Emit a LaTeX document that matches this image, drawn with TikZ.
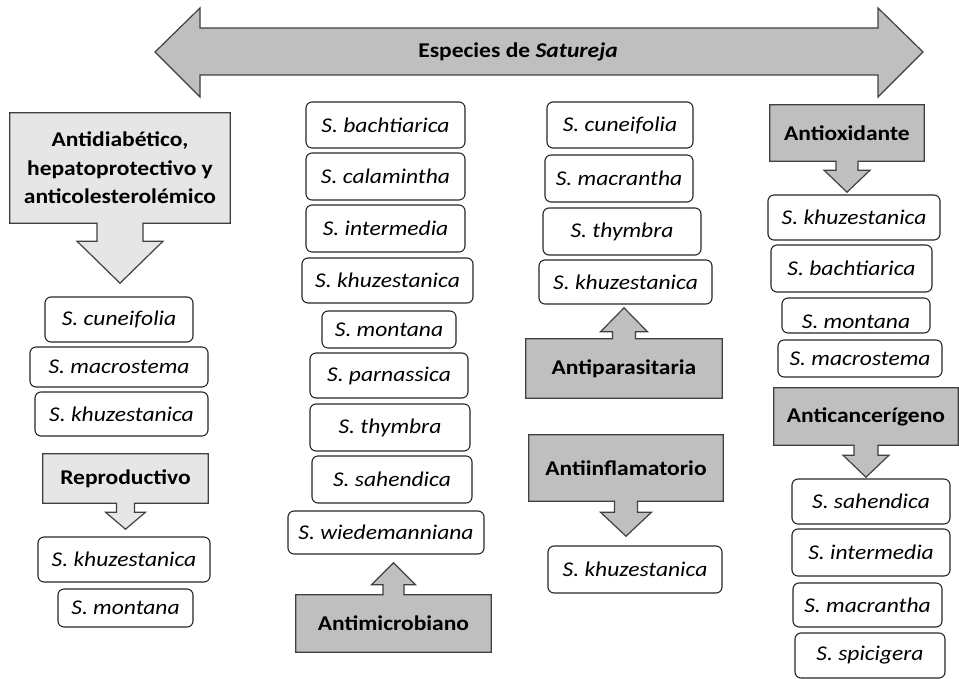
\documentclass[tikz,border=0pt]{standalone}
\usepackage{fontspec}
\setmainfont{Carlito}[FakeStretch=1.12]
\usetikzlibrary{calc,backgrounds}
\definecolor{grisosc}{HTML}{BFBFBF}
\definecolor{grisclaro}{HTML}{E6E6E6}
\definecolor{borde}{HTML}{404040}
\tikzset{
  especie/.style 2 args={draw=black!85, fill=white, rounded corners=6pt, line width=1.1pt, inner sep=0pt, minimum width=#1pt, minimum height=#2pt, font=\fontsize{21}{26}\selectfont\itshape},
  efecto/.style 2 args={inner sep=0pt, minimum width=#1pt, minimum height=#2pt, align=center, font=\fontsize{21}{28.5}\selectfont\bfseries},
  globo/.style={draw=borde, line width=1.2pt, line join=miter}
}

\begin{document}
\begin{tikzpicture}[x=1pt,y=-1pt]
	\useasboundingbox (0,0) rectangle (959,679);
	% flecha de arriba
	\draw[globo, fill=grisosc] (155,52) -- (200,8) -- (200,28) -- (878,28) -- (878,8) -- (923,52) -- (878,97) -- (878,75) -- (200,75) -- (200,97) -- cycle;
	\node[font=\fontsize{21}{26}\selectfont\bfseries] (titulo) at (518,52) {Especies de \textit{Satureja}};

	% columna 1
	\node[efecto={220}{110}] (adb) at (120,168) {Antidiabético,\\hepatoprotectivo y\\anticolesterolémico};
	\node[especie={148}{45}] (c1a) at (119,319.5) {S. cuneifolia};
	\node[especie={178}{40}] (c1b) at (119,367) {S. macrostema};
	\node[especie={173}{44}] (c1c) at (121.5,414) {S. khuzestanica};
	\node[efecto={165}{49}] (rep) at (125.5,478.5) {Reproductivo};
	\node[especie={172}{45}] (c1d) at (124,559.5) {S. khuzestanica};
	\node[especie={135}{38}] (c1e) at (125.5,608) {S. montana};

	% columna 2
	\node[especie={159}{46}] (c2a) at (385.5,125) {S. bachtiarica};
	\node[especie={159}{47}] (c2b) at (385.5,176.5) {S. calamintha};
	\node[especie={159}{47}] (c2c) at (385.5,228.5) {S. intermedia};
	\node[especie={171}{45}] (c2d) at (387.5,280.5) {S. khuzestanica};
	\node[especie={134}{37}] (c2e) at (389,329.5) {S. montana};
	\node[especie={158}{45}] (c2f) at (389,375.5) {S. parnassica};
	\node[especie={160}{47}] (c2g) at (390,427.5) {S. thymbra};
	\node[especie={160}{47}] (c2h) at (392,479.5) {S. sahendica};
	\node[especie={196}{43}] (c2i) at (386,532.5) {S. wiedemanniana};
	\node[efecto={195}{57}] (amic) at (393.5,623.5) {Antimicrobiano};

	% columna 3
	\node[especie={146}{46}] (c3a) at (620,125) {S. cuneifolia};
	\node[especie={148}{47}] (c3b) at (619,178.5) {S. macrantha};
	\node[especie={158}{47}] (c3c) at (622,231.5) {S. thymbra};
	\node[especie={173}{44}] (c3d) at (625.5,282) {S. khuzestanica};
	\node[efecto={196}{59}] (apar) at (624,368.5) {Antiparasitaria};
	\node[efecto={194}{66}] (ainf) at (626,468) {Antiinflamatorio};
	\node[especie={174}{47}] (c3e) at (635,569.5) {S. khuzestanica};

	% columna 4
	\node[efecto={154}{56}] (aox) at (847,133) {Antioxidante};
	\node[especie={172}{45}] (c4a) at (854,217.5) {S. khuzestanica};
	\node[especie={161}{47}] (c4b) at (851.5,268.5) {S. bachtiarica};
	\node[especie={148}{35}, text height=27pt] (c4c) at (856,315.5) {S. montana};
	\node[especie={164}{37}] (c4d) at (860,358.5) {S. macrostema};
	\node[efecto={184}{57}] (acan) at (866,416.5) {Anticancerígeno};
	\node[especie={158}{45}] (c4e) at (871,501.5) {S. sahendica};
	\node[especie={158}{47}] (c4f) at (871,552.5) {S. intermedia};
	\node[especie={149}{44}] (c4g) at (867.5,605) {S. macrantha};
	\node[especie={150}{45}] (c4h) at (870,655.5) {S. spicigera};

	% llamadas con flecha
	\begin{scope}[on background layer]
		\draw[globo, fill=grisclaro] (adb.south west) -- (adb.north west) -- (adb.north east) -- (adb.south east) -- ($(adb.south)+(23,0)$) -- ++(0,18) -- ++(20,0) -- ++(-43,42) -- ++(-43,-42) -- ++(20,0) -- ++(0,-18) -- cycle;
		\draw[globo, fill=grisclaro] (rep.south west) -- (rep.north west) -- (rep.north east) -- (rep.south east) -- ($(rep.south)+(9,0)$) -- ++(0,9) -- ++(11,0) -- ++(-20,17) -- ++(-20,-17) -- ++(11,0) -- ++(0,-9) -- cycle;
		\draw[globo, fill=grisosc] (amic.north west) -- ($(amic.north)+(-10.5,0)$) -- ++(0,-10) -- ++(-11.5,0) -- ++(22,-22) -- ++(22,22) -- ++(-11.5,0) -- ++(0,10) -- (amic.north east) -- (amic.south east) -- (amic.south west) -- cycle;
		\draw[globo, fill=grisosc] (apar.north west) -- ($(apar.north)+(-11.5,0)$) -- ++(0,-7) -- ++(-12,0) -- ++(23.5,-24) -- ++(23.5,24) -- ++(-12,0) -- ++(0,7) -- (apar.north east) -- (apar.south east) -- (apar.south west) -- cycle;
		\draw[globo, fill=grisosc] (ainf.south west) -- (ainf.north west) -- (ainf.north east) -- (ainf.south east) -- ($(ainf.south)+(11.5,0)$) -- ++(0,11) -- ++(14,0) -- ++(-25.5,24) -- ++(-25.5,-24) -- ++(14,0) -- ++(0,-11) -- cycle;
		\draw[globo, fill=grisosc] (aox.south west) -- (aox.north west) -- (aox.north east) -- (aox.south east) -- ($(aox.south)+(11,0)$) -- ++(0,9) -- ++(12,0) -- ++(-23,22) -- ++(-23,-22) -- ++(12,0) -- ++(0,-9) -- cycle;
		\draw[globo, fill=grisosc] (acan.south west) -- (acan.north west) -- (acan.north east) -- (acan.south east) -- ($(acan.south)+(12,0)$) -- ++(0,10) -- ++(11,0) -- ++(-23,22) -- ++(-23,-22) -- ++(11,0) -- ++(0,-10) -- cycle;
	\end{scope}
\end{tikzpicture}
\end{document}
